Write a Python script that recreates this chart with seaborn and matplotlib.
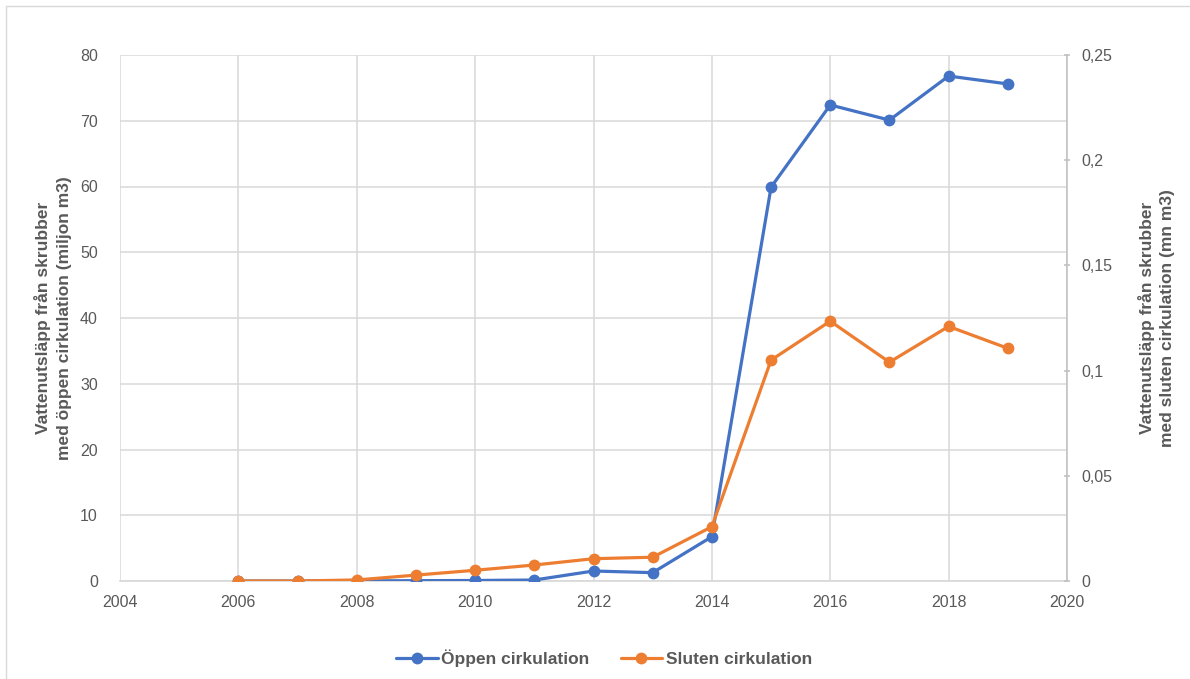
import matplotlib
matplotlib.use("Agg")
import matplotlib.pyplot as plt
import seaborn as sns
import pandas as pd
from matplotlib.lines import Line2D
from matplotlib.patches import Rectangle
from matplotlib.ticker import FuncFormatter, MultipleLocator

years = [2006, 2007, 2008, 2009, 2010, 2011, 2012, 2013, 2014, 2015, 2016, 2017, 2018, 2019]
oppen = [0.0, 0.0, 0.02, 0.05, 0.08, 0.15, 1.52, 1.27, 6.74, 59.9, 72.4, 70.1, 76.8, 75.6]
sluten = [0.0, 0.0, 0.0005, 0.0028, 0.0051, 0.0076, 0.0106, 0.0113, 0.0258, 0.105, 0.1235, 0.104, 0.121, 0.1106]

name_open = "Öppen cirkulation"
name_closed = "Sluten cirkulation"
label_left = "Vattenutsläpp från skrubber\nmed öppen cirkulation (miljon m3)"
label_right = "Vattenutsläpp från skrubber\nmed sluten cirkulation (mn m3)"

blue = "#4472C4"
orange = "#ED7D31"
grid_c = "#D9D9D9"
text_c = "#595959"

sns.set_theme(style="white")
plt.rcParams["font.family"] = ["Liberation Sans", "DejaVu Sans"]

df = pd.DataFrame({"year": years, "oppen": oppen, "sluten": sluten})

fig = plt.figure(figsize=(11.9, 6.79), dpi=100)
ax = fig.add_axes([120 / 1190, 1 - 581 / 679, (1067 - 120) / 1190, (581 - 55) / 679])
ax2 = ax.twinx()

sns.lineplot(data=df, x="year", y="oppen", ax=ax, color=blue, marker="o",
             markersize=8.5, linewidth=2.3, markeredgewidth=0, zorder=3)
sns.lineplot(data=df, x="year", y="sluten", ax=ax2, color=orange, marker="o",
             markersize=8.5, linewidth=2.3, markeredgewidth=0, zorder=3)

ax.set_xlim(2004, 2020)
ax.set_ylim(0, 80)
ax2.set_ylim(0, 0.25)
ax.xaxis.set_major_locator(MultipleLocator(2))
ax.yaxis.set_major_locator(MultipleLocator(10))
ax2.yaxis.set_major_locator(MultipleLocator(0.05))

def comma_fmt(v, pos):
    s = f"{v:.2f}".rstrip("0").rstrip(".")
    return s.replace(".", ",")

ax2.yaxis.set_major_formatter(FuncFormatter(comma_fmt))

ax.grid(True, color=grid_c, linewidth=1.1)
ax.set_axisbelow(True)
for sp in ["top", "left", "right"]:
    ax.spines[sp].set_visible(False)
ax.spines["bottom"].set_color(grid_c)
for sp in ["top", "left", "bottom"]:
    ax2.spines[sp].set_visible(False)
ax2.spines["right"].set_color("#BFBFBF")
ax2.spines["right"].set_linewidth(1.1)

ax.tick_params(axis="both", length=0, labelsize=11.5, labelcolor=text_c, pad=10)
ax.tick_params(axis="y", pad=16)
ax2.tick_params(axis="y", length=5, direction="inout", color="#BFBFBF", width=1.1,
                labelsize=11.5, labelcolor=text_c, pad=8)

ax.set_xlabel("")
ax.set_ylabel(label_left, fontsize=12.5, fontweight="bold", color=text_c, labelpad=6,
              linespacing=1.45)
ax2.set_ylabel(label_right, fontsize=12.5, fontweight="bold", color=text_c, labelpad=18,
               linespacing=1.45)

handles = [
    Line2D([], [], color=blue, marker="o", markersize=8.5, linewidth=2.3, markeredgewidth=0),
    Line2D([], [], color=orange, marker="o", markersize=8.5, linewidth=2.3, markeredgewidth=0),
]
fig.legend(handles, [name_open, name_closed], loc="center", bbox_to_anchor=(604 / 1190, 1 - 658 / 679),
           ncol=2, frameon=False, handlelength=2.4, columnspacing=1.8, handletextpad=0.2,
           prop={"size": 12.5, "weight": "bold"}, labelcolor=text_c)

fig.patches.append(Rectangle((6 / 1190, -0.05), 1.2, 1 - 6 / 679 + 0.05, transform=fig.transFigure,
                             fill=False, edgecolor="#D9D9D9", linewidth=1.0))

fig.savefig("out.png", dpi=100, facecolor="white")
